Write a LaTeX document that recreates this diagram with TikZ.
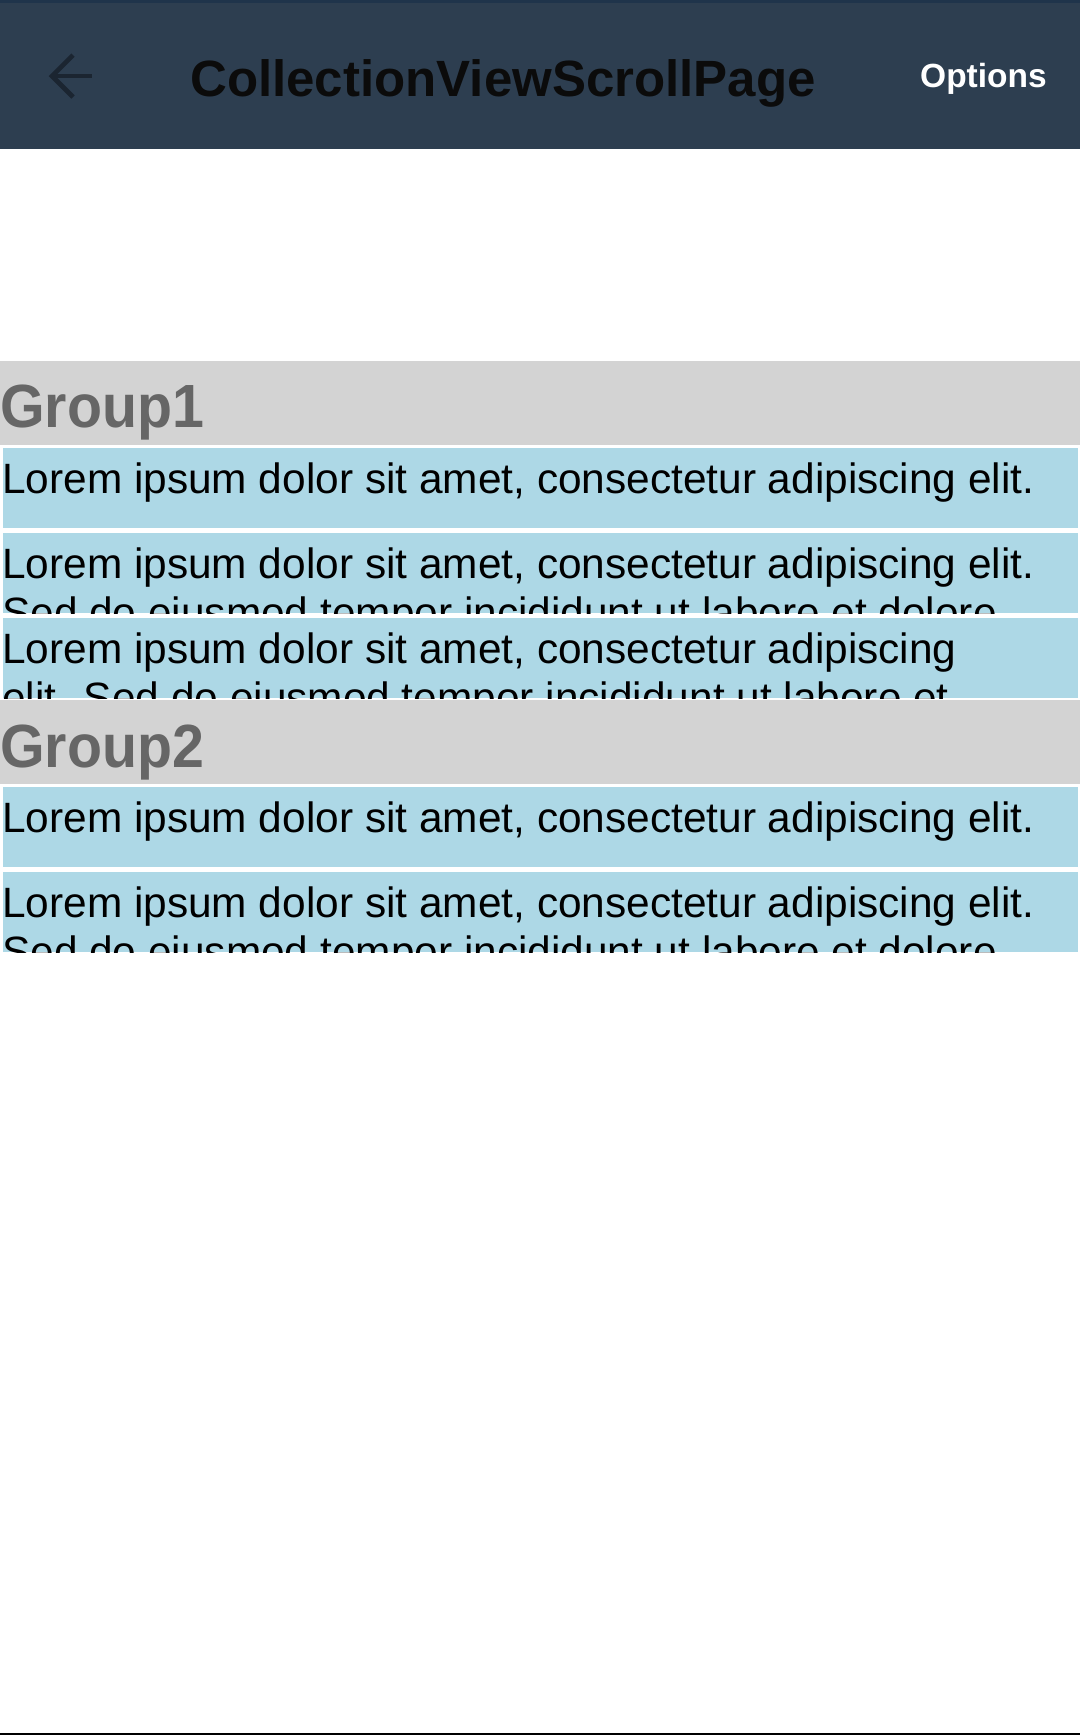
\documentclass[tikz,border=0pt]{standalone}
\usepackage{fontspec}
\setmainfont{Liberation Sans}
\definecolor{hdr}{HTML}{2D3E50}
\definecolor{hdrtop}{HTML}{1F344B}
\definecolor{grpbg}{HTML}{D3D3D3}
\definecolor{itembg}{HTML}{ADD8E6}
\definecolor{grpfg}{HTML}{666666}
\definecolor{arrowc}{HTML}{1B2531}
\definecolor{titlec}{HTML}{0B0B0B}
\begin{document}
\begin{tikzpicture}[x=1pt,y=-1pt,
  itembox/.style={fill=itembg},
  grpbox/.style={fill=grpbg},
  itemtext/.style={anchor=base west,inner sep=0pt,text=black,font=\fontsize{42.4}{49}\selectfont},
  grptext/.style={anchor=base west,inner sep=0pt,text=grpfg,font=\bfseries\fontsize{61}{70}\selectfont},
]
\useasboundingbox (0,0) rectangle (1080,1735);
\fill[white] (0,0) rectangle (1080,1735);
% header
\fill[hdr] (0,0) rectangle (1080,149);
\fill[hdrtop] (0,0) rectangle (1080,3);
\draw[arrowc,line width=4.6pt] (53,76) -- (92,76);
\draw[arrowc,line width=4.6pt,line join=miter] (73,55) -- (52,76) -- (73,97);
\node[anchor=base west,inner sep=0pt,text=titlec,font=\bfseries\fontsize{51}{60}\selectfont] (title) at (190,96) {CollectionViewScrollPage};
\node[anchor=base west,inner sep=0pt,text=white,font=\bfseries\fontsize{33.5}{40}\selectfont] (options) at (920,87) {Options};
% group 1
\fill[grpbox] (0,361) rectangle (1080,445);
\node[grptext] (g1) at (0,427) {\scalebox{0.94}[1]{Group1}};
\fill[itembox] (3,448) rectangle (1078,528);
\node[itemtext] (i1) at (2,493) {Lorem ipsum dolor sit amet, consectetur adipiscing elit.};
\begin{scope}
\clip (3,533) rectangle (1078,613);
\fill[itembox] (3,533) rectangle (1078,613);
\node[itemtext] (i2a) at (2,578) {Lorem ipsum dolor sit amet, consectetur adipiscing elit.};
\node[itemtext] (i2b) at (2,627) {Sed do eiusmod tempor incididunt ut labore et dolore};
\end{scope}
\begin{scope}
\clip (3,618) rectangle (1078,698);
\fill[itembox] (3,618) rectangle (1078,698);
\node[itemtext] (i3a) at (2,663) {Lorem ipsum dolor sit amet, consectetur adipiscing};
\node[itemtext] (i3b) at (2,712) {elit. Sed do eiusmod tempor incididunt ut labore et};
\end{scope}
% group 2
\fill[grpbox] (0,700) rectangle (1080,784);
\node[grptext] (g2) at (0,767) {\scalebox{0.94}[1]{Group2}};
\fill[itembox] (3,787) rectangle (1078,867);
\node[itemtext] (i4) at (2,832) {Lorem ipsum dolor sit amet, consectetur adipiscing elit.};
\begin{scope}
\clip (3,872) rectangle (1078,952);
\fill[itembox] (3,872) rectangle (1078,952);
\node[itemtext] (i5a) at (2,917) {Lorem ipsum dolor sit amet, consectetur adipiscing elit.};
\node[itemtext] (i5b) at (2,966) {Sed do eiusmod tempor incididunt ut labore et dolore};
\end{scope}
% bottom edge
\fill[black] (0,1733) rectangle (1080,1735);
\end{tikzpicture}
\end{document}
